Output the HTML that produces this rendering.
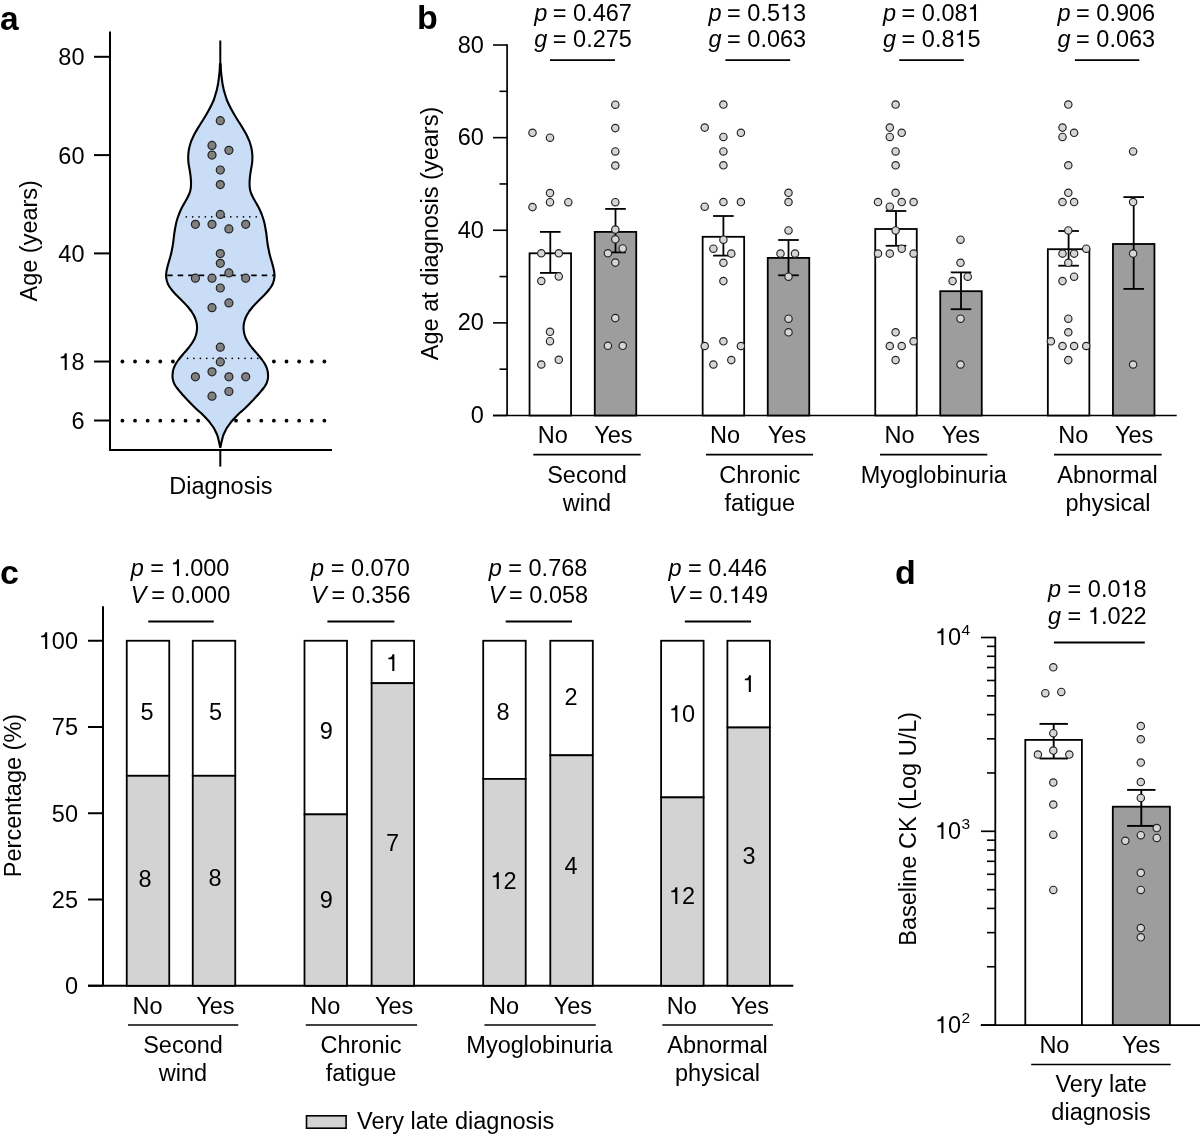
<!DOCTYPE html>
<html><head><meta charset="utf-8"><style>
html,body{margin:0;padding:0;background:#fff;}
svg{display:block;font-family:"Liberation Sans",sans-serif;will-change:transform;}
svg text{fill:#000;}
svg tspan.o{fill:transparent;}
svg line{stroke:#000;}
</style></head><body>
<svg width="1200" height="1141" viewBox="0 0 1200 1141">
<rect width="1200" height="1141" fill="#fff"/>
<text x="0" y="29.6" font-size="33.5" font-weight="bold" text-anchor="start">a</text>
<circle cx="122.4" cy="361.5" r="1.9" fill="#000"/>
<circle cx="135.03" cy="361.5" r="1.9" fill="#000"/>
<circle cx="147.65" cy="361.5" r="1.9" fill="#000"/>
<circle cx="160.28" cy="361.5" r="1.9" fill="#000"/>
<circle cx="172.9" cy="361.5" r="1.9" fill="#000"/>
<circle cx="185.53" cy="361.5" r="1.9" fill="#000"/>
<circle cx="198.15" cy="361.5" r="1.9" fill="#000"/>
<circle cx="210.78" cy="361.5" r="1.9" fill="#000"/>
<circle cx="223.4" cy="361.5" r="1.9" fill="#000"/>
<circle cx="236.03" cy="361.5" r="1.9" fill="#000"/>
<circle cx="248.65" cy="361.5" r="1.9" fill="#000"/>
<circle cx="261.27" cy="361.5" r="1.9" fill="#000"/>
<circle cx="273.9" cy="361.5" r="1.9" fill="#000"/>
<circle cx="286.52" cy="361.5" r="1.9" fill="#000"/>
<circle cx="299.15" cy="361.5" r="1.9" fill="#000"/>
<circle cx="311.77" cy="361.5" r="1.9" fill="#000"/>
<circle cx="324.4" cy="361.5" r="1.9" fill="#000"/>
<circle cx="122.4" cy="420.7" r="1.9" fill="#000"/>
<circle cx="135.03" cy="420.7" r="1.9" fill="#000"/>
<circle cx="147.65" cy="420.7" r="1.9" fill="#000"/>
<circle cx="160.28" cy="420.7" r="1.9" fill="#000"/>
<circle cx="172.9" cy="420.7" r="1.9" fill="#000"/>
<circle cx="185.53" cy="420.7" r="1.9" fill="#000"/>
<circle cx="198.15" cy="420.7" r="1.9" fill="#000"/>
<circle cx="210.78" cy="420.7" r="1.9" fill="#000"/>
<circle cx="223.4" cy="420.7" r="1.9" fill="#000"/>
<circle cx="236.03" cy="420.7" r="1.9" fill="#000"/>
<circle cx="248.65" cy="420.7" r="1.9" fill="#000"/>
<circle cx="261.27" cy="420.7" r="1.9" fill="#000"/>
<circle cx="273.9" cy="420.7" r="1.9" fill="#000"/>
<circle cx="286.52" cy="420.7" r="1.9" fill="#000"/>
<circle cx="299.15" cy="420.7" r="1.9" fill="#000"/>
<circle cx="311.77" cy="420.7" r="1.9" fill="#000"/>
<circle cx="324.4" cy="420.7" r="1.9" fill="#000"/>
<path d="M220.6,64 C220.62,64.33 220.67,65.33 220.7,66 C220.73,66.67 220.77,67.33 220.8,68 C220.83,68.67 220.85,69.33 220.9,70 C220.95,70.67 221.03,71.33 221.1,72 C221.17,72.67 221.23,73.33 221.3,74 C221.37,74.67 221.44,75.33 221.52,76 C221.6,76.67 221.68,77.33 221.76,78 C221.84,78.67 221.91,79.33 222,80 C222.09,80.67 222.19,81.33 222.28,82 C222.37,82.67 222.45,83.33 222.56,84 C222.67,84.67 222.82,85.33 222.96,86 C223.09,86.67 223.24,87.33 223.38,88 C223.52,88.67 223.63,89.33 223.8,90 C223.97,90.67 224.19,91.33 224.39,92 C224.58,92.67 224.77,93.33 224.97,94 C225.17,94.67 225.38,95.33 225.58,96 C225.78,96.67 225.98,97.33 226.2,98 C226.41,98.67 226.6,99.33 226.86,100 C227.12,100.67 227.45,101.33 227.76,102 C228.06,102.67 228.37,103.33 228.69,104 C229,104.67 229.32,105.33 229.65,106 C229.98,106.67 230.32,107.33 230.66,108 C231.01,108.67 231.37,109.33 231.73,110 C232.09,110.67 232.45,111.33 232.82,112 C233.19,112.67 233.56,113.33 233.95,114 C234.34,114.67 234.74,115.33 235.14,116 C235.54,116.67 235.95,117.33 236.36,118 C236.77,118.67 237.18,119.33 237.59,120 C238.01,120.67 238.43,121.33 238.85,122 C239.27,122.67 239.7,123.33 240.13,124 C240.55,124.67 240.99,125.33 241.41,126 C241.83,126.67 242.25,127.33 242.65,128 C243.05,128.67 243.45,129.33 243.83,130 C244.22,130.67 244.61,131.33 244.98,132 C245.36,132.67 245.74,133.33 246.09,134 C246.44,134.67 246.78,135.33 247.1,136 C247.43,136.67 247.72,137.33 248.02,138 C248.32,138.67 248.62,139.33 248.9,140 C249.17,140.67 249.44,141.33 249.68,142 C249.92,142.67 250.12,143.33 250.32,144 C250.52,144.67 250.7,145.33 250.88,146 C251.06,146.67 251.23,147.33 251.38,148 C251.53,148.67 251.66,149.33 251.77,150 C251.88,150.67 251.96,151.33 252.04,152 C252.12,152.67 252.2,153.33 252.25,154 C252.31,154.67 252.37,155.33 252.39,156 C252.41,156.67 252.41,157.33 252.4,158 C252.39,158.67 252.36,159.33 252.32,160 C252.29,160.67 252.26,161.33 252.2,162 C252.14,162.67 252.06,163.33 251.97,164 C251.88,164.67 251.75,165.33 251.64,166 C251.52,166.67 251.39,167.33 251.28,168 C251.16,168.67 251.04,169.33 250.93,170 C250.82,170.67 250.72,171.33 250.62,172 C250.52,172.67 250.42,173.33 250.33,174 C250.24,174.67 250.15,175.33 250.07,176 C249.99,176.67 249.92,177.33 249.86,178 C249.8,178.67 249.75,179.33 249.71,180 C249.66,180.67 249.62,181.33 249.6,182 C249.58,182.67 249.57,183.33 249.57,184 C249.58,184.67 249.6,185.33 249.64,186 C249.68,186.67 249.73,187.33 249.81,188 C249.9,188.67 250,189.33 250.14,190 C250.29,190.67 250.46,191.33 250.67,192 C250.89,192.67 251.15,193.33 251.42,194 C251.7,194.67 252.01,195.33 252.33,196 C252.65,196.67 253,197.33 253.35,198 C253.7,198.67 254.06,199.33 254.43,200 C254.8,200.67 255.18,201.33 255.56,202 C255.94,202.67 256.34,203.33 256.72,204 C257.11,204.67 257.5,205.33 257.87,206 C258.23,206.67 258.59,207.33 258.92,208 C259.25,208.67 259.56,209.33 259.87,210 C260.17,210.67 260.46,211.33 260.74,212 C261.02,212.67 261.29,213.33 261.54,214 C261.8,214.67 262.05,215.33 262.29,216 C262.53,216.67 262.76,217.33 262.98,218 C263.2,218.67 263.41,219.33 263.6,220 C263.8,220.67 263.99,221.33 264.16,222 C264.33,222.67 264.48,223.33 264.63,224 C264.77,224.67 264.89,225.33 265.01,226 C265.14,226.67 265.26,227.33 265.38,228 C265.5,228.67 265.62,229.33 265.74,230 C265.85,230.67 265.97,231.33 266.08,232 C266.19,232.67 266.29,233.33 266.38,234 C266.47,234.67 266.55,235.33 266.63,236 C266.71,236.67 266.78,237.33 266.86,238 C266.94,238.67 267.01,239.33 267.09,240 C267.17,240.67 267.24,241.33 267.33,242 C267.42,242.67 267.51,243.33 267.62,244 C267.72,244.67 267.84,245.33 267.96,246 C268.08,246.67 268.21,247.33 268.34,248 C268.46,248.67 268.59,249.33 268.72,250 C268.85,250.67 268.97,251.33 269.11,252 C269.25,252.67 269.39,253.33 269.55,254 C269.71,254.67 269.89,255.33 270.07,256 C270.25,256.67 270.45,257.33 270.64,258 C270.83,258.67 271.03,259.33 271.23,260 C271.42,260.67 271.62,261.33 271.81,262 C272,262.67 272.19,263.33 272.38,264 C272.56,264.67 272.74,265.33 272.91,266 C273.08,266.67 273.24,267.33 273.4,268 C273.55,268.67 273.7,269.33 273.84,270 C273.97,270.67 274.09,271.33 274.19,272 C274.29,272.67 274.39,273.33 274.44,274 C274.49,274.67 274.51,275.33 274.49,276 C274.47,276.67 274.4,277.33 274.31,278 C274.22,278.67 274.1,279.33 273.95,280 C273.8,280.67 273.61,281.33 273.39,282 C273.17,282.67 272.94,283.33 272.64,284 C272.34,284.67 272.01,285.33 271.61,286 C271.21,286.67 270.75,287.33 270.27,288 C269.79,288.67 269.26,289.33 268.73,290 C268.19,290.67 267.62,291.33 267.03,292 C266.45,292.67 265.85,293.33 265.23,294 C264.61,294.67 263.97,295.33 263.31,296 C262.66,296.67 261.97,297.33 261.3,298 C260.62,298.67 259.93,299.33 259.26,300 C258.59,300.67 257.92,301.33 257.27,302 C256.62,302.67 255.97,303.33 255.34,304 C254.72,304.67 254.1,305.33 253.51,306 C252.92,306.67 252.35,307.33 251.8,308 C251.25,308.67 250.71,309.33 250.21,310 C249.71,310.67 249.23,311.33 248.79,312 C248.34,312.67 247.94,313.33 247.55,314 C247.16,314.67 246.79,315.33 246.46,316 C246.13,316.67 245.83,317.33 245.56,318 C245.29,318.67 245.05,319.33 244.83,320 C244.61,320.67 244.41,321.33 244.25,322 C244.09,322.67 243.96,323.33 243.86,324 C243.75,324.67 243.67,325.33 243.62,326 C243.57,326.67 243.55,327.33 243.57,328 C243.58,328.67 243.64,329.33 243.7,330 C243.77,330.67 243.86,331.33 243.97,332 C244.08,332.67 244.22,333.33 244.38,334 C244.54,334.67 244.72,335.33 244.94,336 C245.16,336.67 245.4,337.33 245.7,338 C246,338.67 246.35,339.33 246.72,340 C247.08,340.67 247.48,341.33 247.89,342 C248.31,342.67 248.75,343.33 249.2,344 C249.65,344.67 250.13,345.33 250.62,346 C251.11,346.67 251.61,347.33 252.15,348 C252.69,348.67 253.26,349.33 253.84,350 C254.42,350.67 255.02,351.33 255.61,352 C256.2,352.67 256.79,353.33 257.37,354 C257.95,354.67 258.52,355.33 259.08,356 C259.64,356.67 260.19,357.33 260.72,358 C261.24,358.67 261.75,359.33 262.23,360 C262.71,360.67 263.18,361.33 263.62,362 C264.06,362.67 264.48,363.33 264.86,364 C265.24,364.67 265.59,365.33 265.91,366 C266.23,366.67 266.53,367.33 266.78,368 C267.03,368.67 267.23,369.33 267.39,370 C267.55,370.67 267.64,371.33 267.74,372 C267.84,372.67 267.92,373.33 267.97,374 C268.03,374.67 268.09,375.33 268.09,376 C268.09,376.67 268.04,377.33 267.96,378 C267.88,378.67 267.76,379.33 267.61,380 C267.45,380.67 267.27,381.33 267.04,382 C266.8,382.67 266.54,383.33 266.21,384 C265.88,384.67 265.48,385.33 265.05,386 C264.61,386.67 264.11,387.33 263.61,388 C263.1,388.67 262.57,389.33 262.03,390 C261.49,390.67 260.92,391.33 260.36,392 C259.79,392.67 259.21,393.33 258.62,394 C258.04,394.67 257.44,395.33 256.84,396 C256.24,396.67 255.63,397.33 255.01,398 C254.4,398.67 253.78,399.33 253.16,400 C252.53,400.67 251.91,401.33 251.27,402 C250.63,402.67 249.98,403.33 249.33,404 C248.68,404.67 248.02,405.33 247.35,406 C246.68,406.67 246.01,407.33 245.3,408 C244.59,408.67 243.86,409.33 243.12,410 C242.38,410.67 241.6,411.33 240.85,412 C240.1,412.67 239.34,413.33 238.62,414 C237.91,414.67 237.21,415.33 236.56,416 C235.9,416.67 235.29,417.33 234.68,418 C234.06,418.67 233.46,419.33 232.86,420 C232.27,420.67 231.65,421.33 231.12,422 C230.59,422.67 230.14,423.33 229.66,424 C229.18,424.67 228.71,425.33 228.24,426 C227.76,426.67 227.23,427.33 226.81,428 C226.4,428.67 226.1,429.33 225.76,430 C225.42,430.67 225.11,431.33 224.78,432 C224.45,432.67 224.08,433.33 223.79,434 C223.5,434.67 223.26,435.33 223.05,436 C222.84,436.67 222.71,437.33 222.54,438 C222.37,438.67 222.2,439.33 222.03,440 C221.86,440.67 221.69,441.33 221.54,442 C221.39,442.67 221.26,443.33 221.12,444 C220.98,444.67 220.81,445.5 220.71,446 C220.6,446.5 220.53,446.83 220.5,447 L220.1,447 C220.07,446.83 220,446.5 219.89,446 C219.79,445.5 219.62,444.67 219.48,444 C219.34,443.33 219.21,442.67 219.06,442 C218.91,441.33 218.74,440.67 218.57,440 C218.4,439.33 218.23,438.67 218.06,438 C217.89,437.33 217.76,436.67 217.55,436 C217.34,435.33 217.1,434.67 216.81,434 C216.52,433.33 216.15,432.67 215.82,432 C215.49,431.33 215.18,430.67 214.84,430 C214.5,429.33 214.2,428.67 213.79,428 C213.37,427.33 212.84,426.67 212.36,426 C211.89,425.33 211.42,424.67 210.94,424 C210.46,423.33 210.01,422.67 209.48,422 C208.95,421.33 208.33,420.67 207.74,420 C207.14,419.33 206.54,418.67 205.92,418 C205.31,417.33 204.7,416.67 204.04,416 C203.39,415.33 202.69,414.67 201.98,414 C201.26,413.33 200.5,412.67 199.75,412 C199,411.33 198.22,410.67 197.48,410 C196.74,409.33 196.01,408.67 195.3,408 C194.59,407.33 193.92,406.67 193.25,406 C192.58,405.33 191.92,404.67 191.27,404 C190.62,403.33 189.97,402.67 189.33,402 C188.69,401.33 188.07,400.67 187.44,400 C186.82,399.33 186.2,398.67 185.59,398 C184.97,397.33 184.36,396.67 183.76,396 C183.16,395.33 182.56,394.67 181.98,394 C181.39,393.33 180.81,392.67 180.24,392 C179.68,391.33 179.11,390.67 178.57,390 C178.03,389.33 177.5,388.67 176.99,388 C176.49,387.33 175.99,386.67 175.55,386 C175.12,385.33 174.72,384.67 174.39,384 C174.06,383.33 173.8,382.67 173.56,382 C173.33,381.33 173.15,380.67 172.99,380 C172.84,379.33 172.72,378.67 172.64,378 C172.56,377.33 172.51,376.67 172.51,376 C172.51,375.33 172.57,374.67 172.63,374 C172.68,373.33 172.76,372.67 172.86,372 C172.96,371.33 173.05,370.67 173.21,370 C173.37,369.33 173.57,368.67 173.82,368 C174.07,367.33 174.37,366.67 174.69,366 C175.01,365.33 175.36,364.67 175.74,364 C176.12,363.33 176.54,362.67 176.98,362 C177.42,361.33 177.89,360.67 178.37,360 C178.85,359.33 179.36,358.67 179.88,358 C180.41,357.33 180.96,356.67 181.52,356 C182.08,355.33 182.65,354.67 183.23,354 C183.81,353.33 184.4,352.67 184.99,352 C185.58,351.33 186.18,350.67 186.76,350 C187.34,349.33 187.91,348.67 188.45,348 C188.99,347.33 189.49,346.67 189.98,346 C190.47,345.33 190.95,344.67 191.4,344 C191.85,343.33 192.29,342.67 192.71,342 C193.12,341.33 193.52,340.67 193.88,340 C194.25,339.33 194.6,338.67 194.9,338 C195.2,337.33 195.44,336.67 195.66,336 C195.88,335.33 196.06,334.67 196.22,334 C196.38,333.33 196.52,332.67 196.63,332 C196.74,331.33 196.83,330.67 196.9,330 C196.96,329.33 197.02,328.67 197.03,328 C197.05,327.33 197.03,326.67 196.98,326 C196.93,325.33 196.85,324.67 196.74,324 C196.64,323.33 196.51,322.67 196.35,322 C196.19,321.33 195.99,320.67 195.77,320 C195.55,319.33 195.31,318.67 195.04,318 C194.77,317.33 194.47,316.67 194.14,316 C193.81,315.33 193.44,314.67 193.05,314 C192.66,313.33 192.26,312.67 191.81,312 C191.37,311.33 190.89,310.67 190.39,310 C189.89,309.33 189.35,308.67 188.8,308 C188.25,307.33 187.68,306.67 187.09,306 C186.5,305.33 185.88,304.67 185.26,304 C184.63,303.33 183.98,302.67 183.33,302 C182.68,301.33 182.01,300.67 181.34,300 C180.67,299.33 179.98,298.67 179.3,298 C178.63,297.33 177.94,296.67 177.29,296 C176.63,295.33 175.99,294.67 175.37,294 C174.75,293.33 174.15,292.67 173.57,292 C172.98,291.33 172.41,290.67 171.87,290 C171.34,289.33 170.81,288.67 170.33,288 C169.85,287.33 169.39,286.67 168.99,286 C168.59,285.33 168.26,284.67 167.96,284 C167.66,283.33 167.43,282.67 167.21,282 C166.99,281.33 166.8,280.67 166.65,280 C166.5,279.33 166.38,278.67 166.29,278 C166.2,277.33 166.13,276.67 166.11,276 C166.09,275.33 166.11,274.67 166.16,274 C166.21,273.33 166.31,272.67 166.41,272 C166.51,271.33 166.63,270.67 166.76,270 C166.9,269.33 167.05,268.67 167.2,268 C167.36,267.33 167.52,266.67 167.69,266 C167.86,265.33 168.04,264.67 168.22,264 C168.41,263.33 168.6,262.67 168.79,262 C168.98,261.33 169.18,260.67 169.37,260 C169.57,259.33 169.77,258.67 169.96,258 C170.15,257.33 170.35,256.67 170.53,256 C170.71,255.33 170.89,254.67 171.05,254 C171.21,253.33 171.35,252.67 171.49,252 C171.63,251.33 171.75,250.67 171.88,250 C172.01,249.33 172.14,248.67 172.26,248 C172.39,247.33 172.52,246.67 172.64,246 C172.76,245.33 172.88,244.67 172.98,244 C173.09,243.33 173.18,242.67 173.27,242 C173.36,241.33 173.43,240.67 173.51,240 C173.59,239.33 173.66,238.67 173.74,238 C173.82,237.33 173.89,236.67 173.97,236 C174.05,235.33 174.13,234.67 174.22,234 C174.31,233.33 174.41,232.67 174.52,232 C174.63,231.33 174.75,230.67 174.86,230 C174.98,229.33 175.1,228.67 175.22,228 C175.34,227.33 175.46,226.67 175.59,226 C175.71,225.33 175.83,224.67 175.97,224 C176.12,223.33 176.27,222.67 176.44,222 C176.61,221.33 176.8,220.67 177,220 C177.19,219.33 177.4,218.67 177.62,218 C177.84,217.33 178.07,216.67 178.31,216 C178.55,215.33 178.8,214.67 179.06,214 C179.31,213.33 179.58,212.67 179.86,212 C180.14,211.33 180.43,210.67 180.73,210 C181.04,209.33 181.35,208.67 181.68,208 C182.01,207.33 182.37,206.67 182.73,206 C183.1,205.33 183.49,204.67 183.88,204 C184.26,203.33 184.66,202.67 185.04,202 C185.42,201.33 185.8,200.67 186.17,200 C186.54,199.33 186.9,198.67 187.25,198 C187.6,197.33 187.95,196.67 188.27,196 C188.59,195.33 188.9,194.67 189.18,194 C189.45,193.33 189.71,192.67 189.93,192 C190.14,191.33 190.31,190.67 190.46,190 C190.6,189.33 190.7,188.67 190.79,188 C190.87,187.33 190.92,186.67 190.96,186 C191,185.33 191.02,184.67 191.03,184 C191.03,183.33 191.02,182.67 191,182 C190.98,181.33 190.94,180.67 190.89,180 C190.85,179.33 190.8,178.67 190.74,178 C190.68,177.33 190.61,176.67 190.53,176 C190.45,175.33 190.36,174.67 190.27,174 C190.18,173.33 190.08,172.67 189.98,172 C189.88,171.33 189.78,170.67 189.67,170 C189.56,169.33 189.44,168.67 189.32,168 C189.21,167.33 189.08,166.67 188.96,166 C188.85,165.33 188.72,164.67 188.63,164 C188.54,163.33 188.46,162.67 188.4,162 C188.34,161.33 188.31,160.67 188.28,160 C188.24,159.33 188.21,158.67 188.2,158 C188.19,157.33 188.19,156.67 188.21,156 C188.23,155.33 188.29,154.67 188.35,154 C188.4,153.33 188.48,152.67 188.56,152 C188.64,151.33 188.72,150.67 188.83,150 C188.94,149.33 189.07,148.67 189.22,148 C189.37,147.33 189.54,146.67 189.72,146 C189.9,145.33 190.08,144.67 190.28,144 C190.48,143.33 190.68,142.67 190.92,142 C191.16,141.33 191.43,140.67 191.7,140 C191.98,139.33 192.28,138.67 192.58,138 C192.88,137.33 193.17,136.67 193.5,136 C193.82,135.33 194.16,134.67 194.51,134 C194.86,133.33 195.24,132.67 195.62,132 C195.99,131.33 196.38,130.67 196.77,130 C197.15,129.33 197.55,128.67 197.95,128 C198.35,127.33 198.77,126.67 199.19,126 C199.61,125.33 200.05,124.67 200.47,124 C200.9,123.33 201.33,122.67 201.75,122 C202.17,121.33 202.59,120.67 203.01,120 C203.42,119.33 203.83,118.67 204.24,118 C204.65,117.33 205.06,116.67 205.46,116 C205.86,115.33 206.26,114.67 206.65,114 C207.04,113.33 207.41,112.67 207.78,112 C208.15,111.33 208.51,110.67 208.87,110 C209.23,109.33 209.59,108.67 209.94,108 C210.28,107.33 210.62,106.67 210.95,106 C211.28,105.33 211.6,104.67 211.91,104 C212.23,103.33 212.54,102.67 212.84,102 C213.15,101.33 213.48,100.67 213.74,100 C214,99.33 214.19,98.67 214.4,98 C214.62,97.33 214.82,96.67 215.02,96 C215.22,95.33 215.43,94.67 215.63,94 C215.83,93.33 216.02,92.67 216.21,92 C216.41,91.33 216.63,90.67 216.8,90 C216.97,89.33 217.08,88.67 217.22,88 C217.36,87.33 217.51,86.67 217.64,86 C217.78,85.33 217.93,84.67 218.04,84 C218.15,83.33 218.23,82.67 218.32,82 C218.41,81.33 218.51,80.67 218.6,80 C218.69,79.33 218.76,78.67 218.84,78 C218.92,77.33 219,76.67 219.08,76 C219.16,75.33 219.23,74.67 219.3,74 C219.37,73.33 219.43,72.67 219.5,72 C219.57,71.33 219.65,70.67 219.7,70 C219.75,69.33 219.77,68.67 219.8,68 C219.83,67.33 219.87,66.67 219.9,66 C219.93,65.33 219.98,64.33 220,64 Z" fill="#c9ddf7" stroke="#000" stroke-width="2.1" stroke-linejoin="round"/>
<line x1="220.3" y1="40.5" x2="220.3" y2="70" stroke-width="2" />
<circle cx="186.3" cy="216.8" r="0.85" fill="#000"/>
<circle cx="192.65" cy="216.8" r="0.85" fill="#000"/>
<circle cx="199.01" cy="216.8" r="0.85" fill="#000"/>
<circle cx="205.36" cy="216.8" r="0.85" fill="#000"/>
<circle cx="211.72" cy="216.8" r="0.85" fill="#000"/>
<circle cx="218.07" cy="216.8" r="0.85" fill="#000"/>
<circle cx="224.43" cy="216.8" r="0.85" fill="#000"/>
<circle cx="230.78" cy="216.8" r="0.85" fill="#000"/>
<circle cx="237.14" cy="216.8" r="0.85" fill="#000"/>
<circle cx="243.49" cy="216.8" r="0.85" fill="#000"/>
<circle cx="249.85" cy="216.8" r="0.85" fill="#000"/>
<circle cx="256.2" cy="216.8" r="0.85" fill="#000"/>
<circle cx="187.6" cy="358.3" r="0.85" fill="#000"/>
<circle cx="193.98" cy="358.3" r="0.85" fill="#000"/>
<circle cx="200.36" cy="358.3" r="0.85" fill="#000"/>
<circle cx="206.75" cy="358.3" r="0.85" fill="#000"/>
<circle cx="213.13" cy="358.3" r="0.85" fill="#000"/>
<circle cx="219.51" cy="358.3" r="0.85" fill="#000"/>
<circle cx="225.89" cy="358.3" r="0.85" fill="#000"/>
<circle cx="232.27" cy="358.3" r="0.85" fill="#000"/>
<circle cx="238.65" cy="358.3" r="0.85" fill="#000"/>
<circle cx="245.04" cy="358.3" r="0.85" fill="#000"/>
<circle cx="251.42" cy="358.3" r="0.85" fill="#000"/>
<circle cx="257.8" cy="358.3" r="0.85" fill="#000"/>
<line x1="167.2" y1="275.4" x2="274" y2="275.4" stroke-width="1.9" stroke-dasharray="5.5,5"/>
<circle cx="220.3" cy="120.7" r="4.0" fill="#808080" stroke="#222" stroke-width="1.2"/>
<circle cx="212" cy="145.4" r="4.0" fill="#808080" stroke="#222" stroke-width="1.2"/>
<circle cx="228.9" cy="150.3" r="4.0" fill="#808080" stroke="#222" stroke-width="1.2"/>
<circle cx="212" cy="155.1" r="4.0" fill="#808080" stroke="#222" stroke-width="1.2"/>
<circle cx="220.3" cy="170" r="4.0" fill="#808080" stroke="#222" stroke-width="1.2"/>
<circle cx="220.3" cy="184.6" r="4.0" fill="#808080" stroke="#222" stroke-width="1.2"/>
<circle cx="220.3" cy="214.4" r="4.0" fill="#808080" stroke="#222" stroke-width="1.2"/>
<circle cx="195.4" cy="224.3" r="4.0" fill="#808080" stroke="#222" stroke-width="1.2"/>
<circle cx="212" cy="224.3" r="4.0" fill="#808080" stroke="#222" stroke-width="1.2"/>
<circle cx="228.9" cy="228.9" r="4.0" fill="#808080" stroke="#222" stroke-width="1.2"/>
<circle cx="245.7" cy="224.3" r="4.0" fill="#808080" stroke="#222" stroke-width="1.2"/>
<circle cx="220.3" cy="253.6" r="4.0" fill="#808080" stroke="#222" stroke-width="1.2"/>
<circle cx="220.3" cy="263.3" r="4.0" fill="#808080" stroke="#222" stroke-width="1.2"/>
<circle cx="228.9" cy="272.9" r="4.0" fill="#808080" stroke="#222" stroke-width="1.2"/>
<circle cx="195.4" cy="278.2" r="4.0" fill="#808080" stroke="#222" stroke-width="1.2"/>
<circle cx="212" cy="278.2" r="4.0" fill="#808080" stroke="#222" stroke-width="1.2"/>
<circle cx="245.7" cy="278.2" r="4.0" fill="#808080" stroke="#222" stroke-width="1.2"/>
<circle cx="220.3" cy="288" r="4.0" fill="#808080" stroke="#222" stroke-width="1.2"/>
<circle cx="228.9" cy="302.9" r="4.0" fill="#808080" stroke="#222" stroke-width="1.2"/>
<circle cx="212" cy="307.7" r="4.0" fill="#808080" stroke="#222" stroke-width="1.2"/>
<circle cx="220.3" cy="347.2" r="4.0" fill="#808080" stroke="#222" stroke-width="1.2"/>
<circle cx="220.3" cy="361.9" r="4.0" fill="#808080" stroke="#222" stroke-width="1.2"/>
<circle cx="212" cy="371.8" r="4.0" fill="#808080" stroke="#222" stroke-width="1.2"/>
<circle cx="195.4" cy="376.8" r="4.0" fill="#808080" stroke="#222" stroke-width="1.2"/>
<circle cx="228.9" cy="376.8" r="4.0" fill="#808080" stroke="#222" stroke-width="1.2"/>
<circle cx="245.7" cy="376.8" r="4.0" fill="#808080" stroke="#222" stroke-width="1.2"/>
<circle cx="228.9" cy="391.5" r="4.0" fill="#808080" stroke="#222" stroke-width="1.2"/>
<circle cx="212" cy="396.2" r="4.0" fill="#808080" stroke="#222" stroke-width="1.2"/>
<line x1="110" y1="31.5" x2="110" y2="451" stroke-width="2" />
<line x1="109" y1="450" x2="332" y2="450" stroke-width="2" />
<line x1="220.3" y1="450" x2="220.3" y2="466.6" stroke-width="2" />
<line x1="94" y1="56.8" x2="110" y2="56.8" stroke-width="2" />
<text x="84.5" y="65.2" text-anchor="end" font-size="23.5" >80</text>
<line x1="94" y1="155.1" x2="110" y2="155.1" stroke-width="2" />
<text x="84.5" y="163.5" text-anchor="end" font-size="23.5" >60</text>
<line x1="94" y1="253.4" x2="110" y2="253.4" stroke-width="2" />
<text x="84.5" y="261.8" text-anchor="end" font-size="23.5" >40</text>
<line x1="94" y1="361.53" x2="110" y2="361.53" stroke-width="2" />
<text x="84.5" y="369.93" text-anchor="end" font-size="23.5" ><tspan class="o">1</tspan>8</text>
<line x1="94" y1="420.51" x2="110" y2="420.51" stroke-width="2" />
<text x="84.5" y="428.91" text-anchor="end" font-size="23.5" >6</text>
<text x="220.8" y="493.6" text-anchor="middle" font-size="23.5" >Diagnosis</text>
<text transform="translate(36.5,240.8) rotate(-90)" text-anchor="middle" font-size="23.5">Age (years)</text>
<text x="417" y="29" font-size="34" font-weight="bold" text-anchor="start">b</text>
<line x1="507.1" y1="44.2" x2="507.1" y2="416" stroke-width="1.7" />
<line x1="493" y1="415.5" x2="1176.7" y2="415.5" stroke-width="1.6" />
<line x1="493" y1="415.5" x2="507.1" y2="415.5" stroke-width="1.6" />
<text x="483.8" y="423.1" text-anchor="end" font-size="23.5" >0</text>
<line x1="493" y1="322.88" x2="507.1" y2="322.88" stroke-width="1.6" />
<text x="483.8" y="330.48" text-anchor="end" font-size="23.5" >20</text>
<line x1="493" y1="230.26" x2="507.1" y2="230.26" stroke-width="1.6" />
<text x="483.8" y="237.86" text-anchor="end" font-size="23.5" >40</text>
<line x1="493" y1="137.64" x2="507.1" y2="137.64" stroke-width="1.6" />
<text x="483.8" y="145.24" text-anchor="end" font-size="23.5" >60</text>
<line x1="493" y1="45.02" x2="507.1" y2="45.02" stroke-width="1.6" />
<text x="483.8" y="52.62" text-anchor="end" font-size="23.5" >80</text>
<line x1="499.5" y1="369.19" x2="507.1" y2="369.19" stroke-width="1.6" />
<line x1="499.5" y1="276.57" x2="507.1" y2="276.57" stroke-width="1.6" />
<line x1="499.5" y1="183.95" x2="507.1" y2="183.95" stroke-width="1.6" />
<line x1="499.5" y1="91.33" x2="507.1" y2="91.33" stroke-width="1.6" />
<text transform="translate(438,233.5) rotate(-90)" text-anchor="middle" font-size="23.5">Age at diagnosis (years)</text>
<rect x="529.55" y="253.3" width="41.5" height="162.2" fill="#fff" stroke="#000" stroke-width="1.8"/>
<line x1="550.3" y1="231.9" x2="550.3" y2="272.9" stroke-width="1.8" />
<line x1="540" y1="231.9" x2="560.6" y2="231.9" stroke-width="1.8" />
<line x1="540" y1="272.9" x2="560.6" y2="272.9" stroke-width="1.8" />
<circle cx="532.5" cy="132.8" r="3.7" fill="#d5d5d5" stroke="#222" stroke-width="1.15"/>
<circle cx="550" cy="137.7" r="3.7" fill="#d5d5d5" stroke="#222" stroke-width="1.15"/>
<circle cx="550" cy="193.1" r="3.7" fill="#d5d5d5" stroke="#222" stroke-width="1.15"/>
<circle cx="550" cy="202.2" r="3.7" fill="#d5d5d5" stroke="#222" stroke-width="1.15"/>
<circle cx="568.3" cy="202.2" r="3.7" fill="#d5d5d5" stroke="#222" stroke-width="1.15"/>
<circle cx="532.5" cy="207.1" r="3.7" fill="#d5d5d5" stroke="#222" stroke-width="1.15"/>
<circle cx="541.3" cy="253.3" r="3.7" fill="#d5d5d5" stroke="#222" stroke-width="1.15"/>
<circle cx="558.8" cy="253.3" r="3.7" fill="#d5d5d5" stroke="#222" stroke-width="1.15"/>
<circle cx="558.8" cy="276.4" r="3.7" fill="#d5d5d5" stroke="#222" stroke-width="1.15"/>
<circle cx="541.3" cy="281" r="3.7" fill="#d5d5d5" stroke="#222" stroke-width="1.15"/>
<circle cx="550" cy="331.8" r="3.7" fill="#d5d5d5" stroke="#222" stroke-width="1.15"/>
<circle cx="550" cy="341.2" r="3.7" fill="#d5d5d5" stroke="#222" stroke-width="1.15"/>
<circle cx="558.8" cy="359.8" r="3.7" fill="#d5d5d5" stroke="#222" stroke-width="1.15"/>
<circle cx="541.3" cy="364.5" r="3.7" fill="#d5d5d5" stroke="#222" stroke-width="1.15"/>
<rect x="594.75" y="231.9" width="41.5" height="183.6" fill="#9d9d9d" stroke="#000" stroke-width="1.8"/>
<line x1="615.5" y1="208.9" x2="615.5" y2="252.4" stroke-width="1.8" />
<line x1="605.2" y1="208.9" x2="625.8" y2="208.9" stroke-width="1.8" />
<line x1="605.2" y1="252.4" x2="625.8" y2="252.4" stroke-width="1.8" />
<circle cx="615.3" cy="104.7" r="3.7" fill="#d5d5d5" stroke="#222" stroke-width="1.15"/>
<circle cx="615.3" cy="128.1" r="3.7" fill="#d5d5d5" stroke="#222" stroke-width="1.15"/>
<circle cx="615.3" cy="151.4" r="3.7" fill="#d5d5d5" stroke="#222" stroke-width="1.15"/>
<circle cx="615.3" cy="165.5" r="3.7" fill="#d5d5d5" stroke="#222" stroke-width="1.15"/>
<circle cx="615.3" cy="202.2" r="3.7" fill="#d5d5d5" stroke="#222" stroke-width="1.15"/>
<circle cx="615.3" cy="229.6" r="3.7" fill="#d5d5d5" stroke="#222" stroke-width="1.15"/>
<circle cx="615.3" cy="239.3" r="3.7" fill="#d5d5d5" stroke="#222" stroke-width="1.15"/>
<circle cx="622.7" cy="248.4" r="3.7" fill="#d5d5d5" stroke="#222" stroke-width="1.15"/>
<circle cx="607.9" cy="253.3" r="3.7" fill="#d5d5d5" stroke="#222" stroke-width="1.15"/>
<circle cx="615.3" cy="262.6" r="3.7" fill="#d5d5d5" stroke="#222" stroke-width="1.15"/>
<circle cx="615.3" cy="318.1" r="3.7" fill="#d5d5d5" stroke="#222" stroke-width="1.15"/>
<circle cx="607.9" cy="345.8" r="3.7" fill="#d5d5d5" stroke="#222" stroke-width="1.15"/>
<circle cx="622.7" cy="345.8" r="3.7" fill="#d5d5d5" stroke="#222" stroke-width="1.15"/>
<rect x="702.65" y="236.8" width="41.5" height="178.7" fill="#fff" stroke="#000" stroke-width="1.8"/>
<line x1="723.4" y1="216" x2="723.4" y2="255.6" stroke-width="1.8" />
<line x1="713.1" y1="216" x2="733.7" y2="216" stroke-width="1.8" />
<line x1="713.1" y1="255.6" x2="733.7" y2="255.6" stroke-width="1.8" />
<circle cx="723.4" cy="104.5" r="3.7" fill="#d5d5d5" stroke="#222" stroke-width="1.15"/>
<circle cx="704.7" cy="127.6" r="3.7" fill="#d5d5d5" stroke="#222" stroke-width="1.15"/>
<circle cx="740.9" cy="132.8" r="3.7" fill="#d5d5d5" stroke="#222" stroke-width="1.15"/>
<circle cx="723.4" cy="136.9" r="3.7" fill="#d5d5d5" stroke="#222" stroke-width="1.15"/>
<circle cx="723.4" cy="151.4" r="3.7" fill="#d5d5d5" stroke="#222" stroke-width="1.15"/>
<circle cx="723.4" cy="165.3" r="3.7" fill="#d5d5d5" stroke="#222" stroke-width="1.15"/>
<circle cx="723.4" cy="202" r="3.7" fill="#d5d5d5" stroke="#222" stroke-width="1.15"/>
<circle cx="740.9" cy="202" r="3.7" fill="#d5d5d5" stroke="#222" stroke-width="1.15"/>
<circle cx="704.7" cy="206.7" r="3.7" fill="#d5d5d5" stroke="#222" stroke-width="1.15"/>
<circle cx="723.4" cy="239.7" r="3.7" fill="#d5d5d5" stroke="#222" stroke-width="1.15"/>
<circle cx="713.4" cy="248.7" r="3.7" fill="#d5d5d5" stroke="#222" stroke-width="1.15"/>
<circle cx="731.3" cy="253.6" r="3.7" fill="#d5d5d5" stroke="#222" stroke-width="1.15"/>
<circle cx="723.4" cy="262.8" r="3.7" fill="#d5d5d5" stroke="#222" stroke-width="1.15"/>
<circle cx="723.4" cy="281.1" r="3.7" fill="#d5d5d5" stroke="#222" stroke-width="1.15"/>
<circle cx="723.4" cy="341.3" r="3.7" fill="#d5d5d5" stroke="#222" stroke-width="1.15"/>
<circle cx="704.7" cy="346" r="3.7" fill="#d5d5d5" stroke="#222" stroke-width="1.15"/>
<circle cx="740.9" cy="346" r="3.7" fill="#d5d5d5" stroke="#222" stroke-width="1.15"/>
<circle cx="731.3" cy="360.1" r="3.7" fill="#d5d5d5" stroke="#222" stroke-width="1.15"/>
<circle cx="713.4" cy="364.5" r="3.7" fill="#d5d5d5" stroke="#222" stroke-width="1.15"/>
<rect x="767.75" y="257.9" width="41.5" height="157.6" fill="#9d9d9d" stroke="#000" stroke-width="1.8"/>
<line x1="788.5" y1="240" x2="788.5" y2="275.3" stroke-width="1.8" />
<line x1="778.2" y1="240" x2="798.8" y2="240" stroke-width="1.8" />
<line x1="778.2" y1="275.3" x2="798.8" y2="275.3" stroke-width="1.8" />
<circle cx="788.5" cy="192.8" r="3.7" fill="#d5d5d5" stroke="#222" stroke-width="1.15"/>
<circle cx="788.5" cy="202" r="3.7" fill="#d5d5d5" stroke="#222" stroke-width="1.15"/>
<circle cx="788.5" cy="230.4" r="3.7" fill="#d5d5d5" stroke="#222" stroke-width="1.15"/>
<circle cx="780.5" cy="253.6" r="3.7" fill="#d5d5d5" stroke="#222" stroke-width="1.15"/>
<circle cx="795" cy="253.6" r="3.7" fill="#d5d5d5" stroke="#222" stroke-width="1.15"/>
<circle cx="788.5" cy="276.7" r="3.7" fill="#d5d5d5" stroke="#222" stroke-width="1.15"/>
<circle cx="788.5" cy="318.7" r="3.7" fill="#d5d5d5" stroke="#222" stroke-width="1.15"/>
<circle cx="788.5" cy="332.3" r="3.7" fill="#d5d5d5" stroke="#222" stroke-width="1.15"/>
<rect x="875.25" y="229" width="41.5" height="186.5" fill="#fff" stroke="#000" stroke-width="1.8"/>
<line x1="896" y1="211" x2="896" y2="245.8" stroke-width="1.8" />
<line x1="885.7" y1="211" x2="906.3" y2="211" stroke-width="1.8" />
<line x1="885.7" y1="245.8" x2="906.3" y2="245.8" stroke-width="1.8" />
<circle cx="895.6" cy="104.5" r="3.7" fill="#d5d5d5" stroke="#222" stroke-width="1.15"/>
<circle cx="889.8" cy="127.6" r="3.7" fill="#d5d5d5" stroke="#222" stroke-width="1.15"/>
<circle cx="901.7" cy="132.8" r="3.7" fill="#d5d5d5" stroke="#222" stroke-width="1.15"/>
<circle cx="889.8" cy="136.9" r="3.7" fill="#d5d5d5" stroke="#222" stroke-width="1.15"/>
<circle cx="895.6" cy="151.4" r="3.7" fill="#d5d5d5" stroke="#222" stroke-width="1.15"/>
<circle cx="895.6" cy="165.3" r="3.7" fill="#d5d5d5" stroke="#222" stroke-width="1.15"/>
<circle cx="895.6" cy="192.8" r="3.7" fill="#d5d5d5" stroke="#222" stroke-width="1.15"/>
<circle cx="878" cy="202" r="3.7" fill="#d5d5d5" stroke="#222" stroke-width="1.15"/>
<circle cx="901.7" cy="202" r="3.7" fill="#d5d5d5" stroke="#222" stroke-width="1.15"/>
<circle cx="913.6" cy="202" r="3.7" fill="#d5d5d5" stroke="#222" stroke-width="1.15"/>
<circle cx="889.8" cy="206.7" r="3.7" fill="#d5d5d5" stroke="#222" stroke-width="1.15"/>
<circle cx="895.6" cy="230.4" r="3.7" fill="#d5d5d5" stroke="#222" stroke-width="1.15"/>
<circle cx="901.7" cy="248.7" r="3.7" fill="#d5d5d5" stroke="#222" stroke-width="1.15"/>
<circle cx="878" cy="253.6" r="3.7" fill="#d5d5d5" stroke="#222" stroke-width="1.15"/>
<circle cx="889.8" cy="253.6" r="3.7" fill="#d5d5d5" stroke="#222" stroke-width="1.15"/>
<circle cx="913.6" cy="253.6" r="3.7" fill="#d5d5d5" stroke="#222" stroke-width="1.15"/>
<circle cx="895.6" cy="332.3" r="3.7" fill="#d5d5d5" stroke="#222" stroke-width="1.15"/>
<circle cx="913.6" cy="341.3" r="3.7" fill="#d5d5d5" stroke="#222" stroke-width="1.15"/>
<circle cx="889.8" cy="346" r="3.7" fill="#d5d5d5" stroke="#222" stroke-width="1.15"/>
<circle cx="901.7" cy="346" r="3.7" fill="#d5d5d5" stroke="#222" stroke-width="1.15"/>
<circle cx="895.6" cy="360.1" r="3.7" fill="#d5d5d5" stroke="#222" stroke-width="1.15"/>
<rect x="940.25" y="291.2" width="41.5" height="124.3" fill="#9d9d9d" stroke="#000" stroke-width="1.8"/>
<line x1="961" y1="272.4" x2="961" y2="309.2" stroke-width="1.8" />
<line x1="950.7" y1="272.4" x2="971.3" y2="272.4" stroke-width="1.8" />
<line x1="950.7" y1="309.2" x2="971.3" y2="309.2" stroke-width="1.8" />
<circle cx="960.5" cy="239.7" r="3.7" fill="#d5d5d5" stroke="#222" stroke-width="1.15"/>
<circle cx="960.5" cy="262.8" r="3.7" fill="#d5d5d5" stroke="#222" stroke-width="1.15"/>
<circle cx="967.7" cy="276.7" r="3.7" fill="#d5d5d5" stroke="#222" stroke-width="1.15"/>
<circle cx="952.6" cy="281.1" r="3.7" fill="#d5d5d5" stroke="#222" stroke-width="1.15"/>
<circle cx="960.5" cy="318.7" r="3.7" fill="#d5d5d5" stroke="#222" stroke-width="1.15"/>
<circle cx="960.5" cy="364.5" r="3.7" fill="#d5d5d5" stroke="#222" stroke-width="1.15"/>
<rect x="1047.85" y="249.2" width="41.5" height="166.3" fill="#fff" stroke="#000" stroke-width="1.8"/>
<line x1="1068.6" y1="231" x2="1068.6" y2="265.7" stroke-width="1.8" />
<line x1="1058.3" y1="231" x2="1078.9" y2="231" stroke-width="1.8" />
<line x1="1058.3" y1="265.7" x2="1078.9" y2="265.7" stroke-width="1.8" />
<circle cx="1068.3" cy="104.5" r="3.7" fill="#d5d5d5" stroke="#222" stroke-width="1.15"/>
<circle cx="1062.5" cy="127.6" r="3.7" fill="#d5d5d5" stroke="#222" stroke-width="1.15"/>
<circle cx="1074.1" cy="132.8" r="3.7" fill="#d5d5d5" stroke="#222" stroke-width="1.15"/>
<circle cx="1062.5" cy="136.9" r="3.7" fill="#d5d5d5" stroke="#222" stroke-width="1.15"/>
<circle cx="1068.3" cy="165.3" r="3.7" fill="#d5d5d5" stroke="#222" stroke-width="1.15"/>
<circle cx="1068.3" cy="192.8" r="3.7" fill="#d5d5d5" stroke="#222" stroke-width="1.15"/>
<circle cx="1062.5" cy="202" r="3.7" fill="#d5d5d5" stroke="#222" stroke-width="1.15"/>
<circle cx="1074.1" cy="202" r="3.7" fill="#d5d5d5" stroke="#222" stroke-width="1.15"/>
<circle cx="1068.3" cy="230.4" r="3.7" fill="#d5d5d5" stroke="#222" stroke-width="1.15"/>
<circle cx="1086.2" cy="248.7" r="3.7" fill="#d5d5d5" stroke="#222" stroke-width="1.15"/>
<circle cx="1062.5" cy="253.6" r="3.7" fill="#d5d5d5" stroke="#222" stroke-width="1.15"/>
<circle cx="1074.1" cy="253.6" r="3.7" fill="#d5d5d5" stroke="#222" stroke-width="1.15"/>
<circle cx="1068.3" cy="262.8" r="3.7" fill="#d5d5d5" stroke="#222" stroke-width="1.15"/>
<circle cx="1074.1" cy="276.7" r="3.7" fill="#d5d5d5" stroke="#222" stroke-width="1.15"/>
<circle cx="1062.5" cy="281.1" r="3.7" fill="#d5d5d5" stroke="#222" stroke-width="1.15"/>
<circle cx="1068.3" cy="318.7" r="3.7" fill="#d5d5d5" stroke="#222" stroke-width="1.15"/>
<circle cx="1068.3" cy="332.3" r="3.7" fill="#d5d5d5" stroke="#222" stroke-width="1.15"/>
<circle cx="1050.9" cy="341.3" r="3.7" fill="#d5d5d5" stroke="#222" stroke-width="1.15"/>
<circle cx="1062.5" cy="346" r="3.7" fill="#d5d5d5" stroke="#222" stroke-width="1.15"/>
<circle cx="1074.1" cy="346" r="3.7" fill="#d5d5d5" stroke="#222" stroke-width="1.15"/>
<circle cx="1086.2" cy="346" r="3.7" fill="#d5d5d5" stroke="#222" stroke-width="1.15"/>
<circle cx="1068.3" cy="360.1" r="3.7" fill="#d5d5d5" stroke="#222" stroke-width="1.15"/>
<rect x="1112.95" y="244" width="41.5" height="171.5" fill="#9d9d9d" stroke="#000" stroke-width="1.8"/>
<line x1="1133.7" y1="197.1" x2="1133.7" y2="288.9" stroke-width="1.8" />
<line x1="1123.4" y1="197.1" x2="1144" y2="197.1" stroke-width="1.8" />
<line x1="1123.4" y1="288.9" x2="1144" y2="288.9" stroke-width="1.8" />
<circle cx="1133.1" cy="151.4" r="3.7" fill="#d5d5d5" stroke="#222" stroke-width="1.15"/>
<circle cx="1133.1" cy="202" r="3.7" fill="#d5d5d5" stroke="#222" stroke-width="1.15"/>
<circle cx="1133.1" cy="253.6" r="3.7" fill="#d5d5d5" stroke="#222" stroke-width="1.15"/>
<circle cx="1133.1" cy="364.5" r="3.7" fill="#d5d5d5" stroke="#222" stroke-width="1.15"/>
<text x="552.8" y="443.4" text-anchor="middle" font-size="23.5" >No</text>
<text x="613.4" y="443.4" text-anchor="middle" font-size="23.5" >Yes</text>
<line x1="533.3" y1="454.6" x2="640.7" y2="454.6" stroke-width="1.6" />
<text x="725" y="443.4" text-anchor="middle" font-size="23.5" >No</text>
<text x="787" y="443.4" text-anchor="middle" font-size="23.5" >Yes</text>
<line x1="706" y1="454.6" x2="813" y2="454.6" stroke-width="1.6" />
<text x="899.5" y="443.4" text-anchor="middle" font-size="23.5" >No</text>
<text x="960.8" y="443.4" text-anchor="middle" font-size="23.5" >Yes</text>
<line x1="880" y1="454.6" x2="987.3" y2="454.6" stroke-width="1.6" />
<text x="1073.3" y="443.4" text-anchor="middle" font-size="23.5" >No</text>
<text x="1134.2" y="443.4" text-anchor="middle" font-size="23.5" >Yes</text>
<line x1="1054" y1="454.6" x2="1161.7" y2="454.6" stroke-width="1.6" />
<text x="587" y="482.8" text-anchor="middle" font-size="23.5" >Second</text>
<text x="587" y="510.7" text-anchor="middle" font-size="23.5" >wind</text>
<text x="759.8" y="482.8" text-anchor="middle" font-size="23.5" >Chronic</text>
<text x="759.8" y="510.7" text-anchor="middle" font-size="23.5" >fatigue</text>
<text x="933.8" y="482.8" text-anchor="middle" font-size="23.5" >Myoglobinuria</text>
<text x="1107.5" y="482.8" text-anchor="middle" font-size="23.5" >Abnormal</text>
<text x="1108" y="510.7" text-anchor="middle" font-size="23.5" >physical</text>
<text x="533.25" y="21.4" font-size="23.5"><tspan font-style="italic" dx="1">p</tspan><tspan dx="-1"> = 0.467</tspan></text>
<text x="533.25" y="46.6" font-size="23.5"><tspan font-style="italic" dx="1">g</tspan><tspan dx="-1"> = 0.275</tspan></text>
<line x1="550" y1="60.2" x2="615" y2="60.2" stroke-width="1.8" />
<text x="707.5" y="21.4" font-size="23.5"><tspan font-style="italic" dx="1">p</tspan><tspan dx="-1"> = 0.5<tspan class="o">1</tspan>3</tspan></text>
<text x="707.5" y="46.6" font-size="23.5"><tspan font-style="italic" dx="1">g</tspan><tspan dx="-1"> = 0.063</tspan></text>
<line x1="725.4" y1="60.2" x2="790.2" y2="60.2" stroke-width="1.8" />
<text x="882" y="21.4" font-size="23.5"><tspan font-style="italic" dx="1">p</tspan><tspan dx="-1"> = 0.08<tspan class="o">1</tspan></tspan></text>
<text x="882" y="46.6" font-size="23.5"><tspan font-style="italic" dx="1">g</tspan><tspan dx="-1"> = 0.8<tspan class="o">1</tspan>5</tspan></text>
<line x1="899.2" y1="60.2" x2="963.8" y2="60.2" stroke-width="1.8" />
<text x="1056.5" y="21.4" font-size="23.5"><tspan font-style="italic" dx="1">p</tspan><tspan dx="-1"> = 0.906</tspan></text>
<text x="1056.5" y="46.6" font-size="23.5"><tspan font-style="italic" dx="1">g</tspan><tspan dx="-1"> = 0.063</tspan></text>
<line x1="1074.9" y1="60.2" x2="1139.3" y2="60.2" stroke-width="1.8" />
<text x="0" y="584" font-size="34" font-weight="bold" text-anchor="start">c</text>
<line x1="103" y1="606.25" x2="103" y2="986" stroke-width="2" />
<line x1="88" y1="985.75" x2="793.3" y2="985.75" stroke-width="2" />
<line x1="88" y1="985.75" x2="103" y2="985.75" stroke-width="2" />
<text x="78" y="994.15" text-anchor="end" font-size="23.5" >0</text>
<line x1="88" y1="899.5" x2="103" y2="899.5" stroke-width="2" />
<text x="78" y="907.9" text-anchor="end" font-size="23.5" >25</text>
<line x1="88" y1="813.25" x2="103" y2="813.25" stroke-width="2" />
<text x="78" y="821.65" text-anchor="end" font-size="23.5" >50</text>
<line x1="88" y1="727" x2="103" y2="727" stroke-width="2" />
<text x="78" y="735.4" text-anchor="end" font-size="23.5" >75</text>
<line x1="88" y1="640.75" x2="103" y2="640.75" stroke-width="2" />
<text x="78" y="649.15" text-anchor="end" font-size="23.5" ><tspan class="o">1</tspan>00</text>
<text transform="translate(21.2,795.5) rotate(-90)" text-anchor="middle" font-size="23.5">Percentage (%)</text>
<rect x="126.75" y="640.75" width="42.5" height="135.05" fill="#fff" stroke="#000" stroke-width="1.8"/>
<rect x="126.75" y="775.8" width="42.5" height="209.95" fill="#d3d3d3" stroke="#000" stroke-width="1.8"/>
<rect x="192.75" y="640.75" width="42.5" height="135.05" fill="#fff" stroke="#000" stroke-width="1.8"/>
<rect x="192.75" y="775.8" width="42.5" height="209.95" fill="#d3d3d3" stroke="#000" stroke-width="1.8"/>
<text x="147" y="720.4" text-anchor="middle" font-size="23.5" >5</text>
<text x="145" y="886.65" text-anchor="middle" font-size="23.5" >8</text>
<text x="215.5" y="720.4" text-anchor="middle" font-size="23.5" >5</text>
<text x="215" y="886.4" text-anchor="middle" font-size="23.5" >8</text>
<rect x="304.5" y="640.75" width="42.5" height="173.65" fill="#fff" stroke="#000" stroke-width="1.8"/>
<rect x="304.5" y="814.4" width="42.5" height="171.35" fill="#d3d3d3" stroke="#000" stroke-width="1.8"/>
<rect x="371.6" y="640.75" width="42.5" height="42.45" fill="#fff" stroke="#000" stroke-width="1.8"/>
<rect x="371.6" y="683.2" width="42.5" height="302.55" fill="#d3d3d3" stroke="#000" stroke-width="1.8"/>
<text x="326.2" y="739.1" text-anchor="middle" font-size="23.5" >9</text>
<text x="326.2" y="907.7" text-anchor="middle" font-size="23.5" >9</text>
<text x="392.5" y="670.9" text-anchor="middle" font-size="23.5" ><tspan class="o">1</tspan></text>
<text x="392.5" y="851.2" text-anchor="middle" font-size="23.5" >7</text>
<rect x="483.2" y="640.75" width="42.5" height="138.15" fill="#fff" stroke="#000" stroke-width="1.8"/>
<rect x="483.2" y="778.9" width="42.5" height="206.85" fill="#d3d3d3" stroke="#000" stroke-width="1.8"/>
<rect x="550.3" y="640.75" width="42.5" height="114.55" fill="#fff" stroke="#000" stroke-width="1.8"/>
<rect x="550.3" y="755.3" width="42.5" height="230.45" fill="#d3d3d3" stroke="#000" stroke-width="1.8"/>
<text x="503" y="720.2" text-anchor="middle" font-size="23.5" >8</text>
<text x="503.5" y="889.1" text-anchor="middle" font-size="23.5" ><tspan class="o">1</tspan>2</text>
<text x="571" y="705.2" text-anchor="middle" font-size="23.5" >2</text>
<text x="571" y="874.1" text-anchor="middle" font-size="23.5" >4</text>
<rect x="661.1" y="640.75" width="42.5" height="156.65" fill="#fff" stroke="#000" stroke-width="1.8"/>
<rect x="661.1" y="797.4" width="42.5" height="188.35" fill="#d3d3d3" stroke="#000" stroke-width="1.8"/>
<rect x="727.4" y="640.75" width="42.5" height="86.75" fill="#fff" stroke="#000" stroke-width="1.8"/>
<rect x="727.4" y="727.5" width="42.5" height="258.25" fill="#d3d3d3" stroke="#000" stroke-width="1.8"/>
<text x="682" y="722.1" text-anchor="middle" font-size="23.5" ><tspan class="o">1</tspan>0</text>
<text x="682" y="904.4" text-anchor="middle" font-size="23.5" ><tspan class="o">1</tspan>2</text>
<text x="749" y="692.5" text-anchor="middle" font-size="23.5" ><tspan class="o">1</tspan></text>
<text x="749" y="864.1" text-anchor="middle" font-size="23.5" >3</text>
<text x="130.75" y="576.4" font-size="23.5"><tspan font-style="italic">p</tspan> = <tspan class="o">1</tspan>.000</text>
<text x="130.75" y="603.2" font-size="23.5"><tspan font-style="italic">V</tspan><tspan dx="-1.8"> = 0.000</tspan></text>
<line x1="148.25" y1="621.5" x2="213.75" y2="621.5" stroke-width="1.8" />
<text x="311.1" y="576.4" font-size="23.5"><tspan font-style="italic">p</tspan> = 0.070</text>
<text x="311.1" y="603.2" font-size="23.5"><tspan font-style="italic">V</tspan><tspan dx="-1.8"> = 0.356</tspan></text>
<line x1="327.4" y1="621.5" x2="394.4" y2="621.5" stroke-width="1.8" />
<text x="488.7" y="576.4" font-size="23.5"><tspan font-style="italic">p</tspan> = 0.768</text>
<text x="488.7" y="603.2" font-size="23.5"><tspan font-style="italic">V</tspan><tspan dx="-1.8"> = 0.058</tspan></text>
<line x1="505.7" y1="621.5" x2="572" y2="621.5" stroke-width="1.8" />
<text x="668.5" y="576.4" font-size="23.5"><tspan font-style="italic">p</tspan> = 0.446</text>
<text x="668.5" y="603.2" font-size="23.5"><tspan font-style="italic">V</tspan><tspan dx="-1.8"> = 0.<tspan class="o">1</tspan>49</tspan></text>
<line x1="684.8" y1="621.5" x2="751.1" y2="621.5" stroke-width="1.8" />
<text x="147.5" y="1013.8" text-anchor="middle" font-size="23.5" >No</text>
<text x="215.3" y="1013.8" text-anchor="middle" font-size="23.5" >Yes</text>
<line x1="128" y1="1025" x2="238.25" y2="1025" stroke-width="1.6" />
<text x="325.25" y="1013.8" text-anchor="middle" font-size="23.5" >No</text>
<text x="394.15" y="1013.8" text-anchor="middle" font-size="23.5" >Yes</text>
<line x1="305.75" y1="1025" x2="417.1" y2="1025" stroke-width="1.6" />
<text x="503.95" y="1013.8" text-anchor="middle" font-size="23.5" >No</text>
<text x="572.85" y="1013.8" text-anchor="middle" font-size="23.5" >Yes</text>
<line x1="484.45" y1="1025" x2="595.8" y2="1025" stroke-width="1.6" />
<text x="681.85" y="1013.8" text-anchor="middle" font-size="23.5" >No</text>
<text x="749.95" y="1013.8" text-anchor="middle" font-size="23.5" >Yes</text>
<line x1="662.35" y1="1025" x2="772.9" y2="1025" stroke-width="1.6" />
<text x="183" y="1052.5" text-anchor="middle" font-size="23.5" >Second</text>
<text x="183" y="1080.5" text-anchor="middle" font-size="23.5" >wind</text>
<text x="361" y="1052.5" text-anchor="middle" font-size="23.5" >Chronic</text>
<text x="361" y="1080.5" text-anchor="middle" font-size="23.5" >fatigue</text>
<text x="539.5" y="1052.5" text-anchor="middle" font-size="23.5" >Myoglobinuria</text>
<text x="717.5" y="1052.5" text-anchor="middle" font-size="23.5" >Abnormal</text>
<text x="717.5" y="1080.5" text-anchor="middle" font-size="23.5" >physical</text>
<rect x="306.5" y="1115.8" width="39.6" height="12.4" fill="#d3d3d3" stroke="#000" stroke-width="1.6"/>
<text x="357" y="1129" text-anchor="start" font-size="23.5" >Very late diagnosis</text>
<text x="895" y="583.8" font-size="34" font-weight="bold" text-anchor="start">d</text>
<line x1="995.3" y1="636.7" x2="995.3" y2="1025.5" stroke-width="1.8" />
<line x1="980.8" y1="1025.1" x2="1200" y2="1025.1" stroke-width="1.7" />
<line x1="981" y1="637.5" x2="995.3" y2="637.5" stroke-width="1.7" />
<text x="961.2" y="645.2" text-anchor="end" font-size="23.5"><tspan class="o">1</tspan>0</text>
<text x="961.6" y="634.9" text-anchor="start" font-size="15.5">4</text>
<line x1="981" y1="831.3" x2="995.3" y2="831.3" stroke-width="1.7" />
<text x="961.2" y="839" text-anchor="end" font-size="23.5"><tspan class="o">1</tspan>0</text>
<text x="961.6" y="828.7" text-anchor="start" font-size="15.5">3</text>
<line x1="981" y1="1025.1" x2="995.3" y2="1025.1" stroke-width="1.7" />
<text x="961.2" y="1032.8" text-anchor="end" font-size="23.5"><tspan class="o">1</tspan>0</text>
<text x="961.6" y="1022.5" text-anchor="start" font-size="15.5">2</text>
<line x1="987" y1="966.76" x2="995.3" y2="966.76" stroke-width="1.6" />
<line x1="987" y1="932.63" x2="995.3" y2="932.63" stroke-width="1.6" />
<line x1="987" y1="908.42" x2="995.3" y2="908.42" stroke-width="1.6" />
<line x1="987" y1="889.64" x2="995.3" y2="889.64" stroke-width="1.6" />
<line x1="987" y1="874.29" x2="995.3" y2="874.29" stroke-width="1.6" />
<line x1="987" y1="861.32" x2="995.3" y2="861.32" stroke-width="1.6" />
<line x1="987" y1="850.08" x2="995.3" y2="850.08" stroke-width="1.6" />
<line x1="987" y1="840.17" x2="995.3" y2="840.17" stroke-width="1.6" />
<line x1="987" y1="772.96" x2="995.3" y2="772.96" stroke-width="1.6" />
<line x1="987" y1="738.83" x2="995.3" y2="738.83" stroke-width="1.6" />
<line x1="987" y1="714.62" x2="995.3" y2="714.62" stroke-width="1.6" />
<line x1="987" y1="695.84" x2="995.3" y2="695.84" stroke-width="1.6" />
<line x1="987" y1="680.49" x2="995.3" y2="680.49" stroke-width="1.6" />
<line x1="987" y1="667.52" x2="995.3" y2="667.52" stroke-width="1.6" />
<line x1="987" y1="656.28" x2="995.3" y2="656.28" stroke-width="1.6" />
<line x1="987" y1="646.37" x2="995.3" y2="646.37" stroke-width="1.6" />
<text transform="translate(915.5,828.8) rotate(-90)" text-anchor="middle" font-size="23.5">Baseline CK (Log U/L)</text>
<rect x="1025.3" y="739.9" width="56.6" height="285.2" fill="#fff" stroke="#000" stroke-width="1.8"/>
<rect x="1112.8" y="806.7" width="57.1" height="218.4" fill="#9d9d9d" stroke="#000" stroke-width="1.8"/>
<line x1="1053.7" y1="723.9" x2="1053.7" y2="758.5" stroke-width="1.9" />
<line x1="1039.5" y1="723.9" x2="1067.9" y2="723.9" stroke-width="1.9" />
<line x1="1039.5" y1="758.5" x2="1067.9" y2="758.5" stroke-width="1.9" />
<line x1="1141.3" y1="789.9" x2="1141.3" y2="825.9" stroke-width="1.9" />
<line x1="1127.1" y1="789.9" x2="1155.5" y2="789.9" stroke-width="1.9" />
<line x1="1127.1" y1="825.9" x2="1155.5" y2="825.9" stroke-width="1.9" />
<circle cx="1053.3" cy="667.3" r="3.7" fill="#d5d5d5" stroke="#222" stroke-width="1.15"/>
<circle cx="1045.3" cy="693.2" r="3.7" fill="#d5d5d5" stroke="#222" stroke-width="1.15"/>
<circle cx="1061.3" cy="691.9" r="3.7" fill="#d5d5d5" stroke="#222" stroke-width="1.15"/>
<circle cx="1053.3" cy="733.2" r="3.7" fill="#d5d5d5" stroke="#222" stroke-width="1.15"/>
<circle cx="1053.3" cy="750.5" r="3.7" fill="#d5d5d5" stroke="#222" stroke-width="1.15"/>
<circle cx="1037.9" cy="754.5" r="3.7" fill="#d5d5d5" stroke="#222" stroke-width="1.15"/>
<circle cx="1069.3" cy="754.5" r="3.7" fill="#d5d5d5" stroke="#222" stroke-width="1.15"/>
<circle cx="1053.3" cy="782.5" r="3.7" fill="#d5d5d5" stroke="#222" stroke-width="1.15"/>
<circle cx="1053.3" cy="804.5" r="3.7" fill="#d5d5d5" stroke="#222" stroke-width="1.15"/>
<circle cx="1053.3" cy="834.7" r="3.7" fill="#d5d5d5" stroke="#222" stroke-width="1.15"/>
<circle cx="1053.3" cy="889.9" r="3.7" fill="#d5d5d5" stroke="#222" stroke-width="1.15"/>
<circle cx="1140.8" cy="726" r="3.7" fill="#d5d5d5" stroke="#222" stroke-width="1.15"/>
<circle cx="1140.8" cy="739.3" r="3.7" fill="#d5d5d5" stroke="#222" stroke-width="1.15"/>
<circle cx="1140.8" cy="762.5" r="3.7" fill="#d5d5d5" stroke="#222" stroke-width="1.15"/>
<circle cx="1140.8" cy="782" r="3.7" fill="#d5d5d5" stroke="#222" stroke-width="1.15"/>
<circle cx="1140.8" cy="797.9" r="3.7" fill="#d5d5d5" stroke="#222" stroke-width="1.15"/>
<circle cx="1156.8" cy="828" r="3.7" fill="#d5d5d5" stroke="#222" stroke-width="1.15"/>
<circle cx="1140.8" cy="835.2" r="3.7" fill="#d5d5d5" stroke="#222" stroke-width="1.15"/>
<circle cx="1125.3" cy="840.8" r="3.7" fill="#d5d5d5" stroke="#222" stroke-width="1.15"/>
<circle cx="1156.8" cy="837.9" r="3.7" fill="#d5d5d5" stroke="#222" stroke-width="1.15"/>
<circle cx="1140.8" cy="872.8" r="3.7" fill="#d5d5d5" stroke="#222" stroke-width="1.15"/>
<circle cx="1140.8" cy="889.9" r="3.7" fill="#d5d5d5" stroke="#222" stroke-width="1.15"/>
<circle cx="1140.8" cy="928" r="3.7" fill="#d5d5d5" stroke="#222" stroke-width="1.15"/>
<circle cx="1140.8" cy="937.3" r="3.7" fill="#d5d5d5" stroke="#222" stroke-width="1.15"/>
<text x="1048" y="597.4" font-size="23.5"><tspan font-style="italic">p</tspan> = 0.0<tspan class="o">1</tspan>8</text>
<text x="1048" y="623.5" font-size="23.5"><tspan font-style="italic">g</tspan> = <tspan class="o">1</tspan>.022</text>
<line x1="1053.9" y1="642.5" x2="1144.8" y2="642.5" stroke-width="2" />
<text x="1054.4" y="1052.5" text-anchor="middle" font-size="23.5" >No</text>
<text x="1141.2" y="1052.5" text-anchor="middle" font-size="23.5" >Yes</text>
<line x1="1031.2" y1="1064.5" x2="1170.7" y2="1064.5" stroke-width="1.6" />
<text x="1101.2" y="1091.7" text-anchor="middle" font-size="23.5" >Very late</text>
<text x="1101" y="1120.2" text-anchor="middle" font-size="23.5" >diagnosis</text>
<path d="M358,0L269,0L269,502L100,502L100,560C200,565 262,600 280,709L358,709Z" transform="translate(58.34,370) scale(0.02350,-0.02350)" fill="#000"/>
<path d="M358,0L269,0L269,502L100,502L100,560C200,565 262,600 280,709L358,709Z" transform="translate(780.03,21) scale(0.02350,-0.02350)" fill="#000"/>
<path d="M358,0L269,0L269,502L100,502L100,560C200,565 262,600 280,709L358,709Z" transform="translate(967.61,21) scale(0.02350,-0.02350)" fill="#000"/>
<path d="M358,0L269,0L269,502L100,502L100,560C200,565 262,600 280,709L358,709Z" transform="translate(954.53,47) scale(0.02350,-0.02350)" fill="#000"/>
<path d="M358,0L269,0L269,502L100,502L100,560C200,565 262,600 280,709L358,709Z" transform="translate(38.78,649) scale(0.02350,-0.02350)" fill="#000"/>
<path d="M358,0L269,0L269,502L100,502L100,560C200,565 262,600 280,709L358,709Z" transform="translate(385.96,671) scale(0.02350,-0.02350)" fill="#000"/>
<path d="M358,0L269,0L269,502L100,502L100,560C200,565 262,600 280,709L358,709Z" transform="translate(490.42,889) scale(0.02350,-0.02350)" fill="#000"/>
<path d="M358,0L269,0L269,502L100,502L100,560C200,565 262,600 280,709L358,709Z" transform="translate(668.92,722) scale(0.02350,-0.02350)" fill="#000"/>
<path d="M358,0L269,0L269,502L100,502L100,560C200,565 262,600 280,709L358,709Z" transform="translate(668.92,904) scale(0.02350,-0.02350)" fill="#000"/>
<path d="M358,0L269,0L269,502L100,502L100,560C200,565 262,600 280,709L358,709Z" transform="translate(742.46,692) scale(0.02350,-0.02350)" fill="#000"/>
<path d="M358,0L269,0L269,502L100,502L100,560C200,565 262,600 280,709L358,709Z" transform="translate(170.62,576) scale(0.02350,-0.02350)" fill="#000"/>
<path d="M358,0L269,0L269,502L100,502L100,560C200,565 262,600 280,709L358,709Z" transform="translate(728.78,603) scale(0.02350,-0.02350)" fill="#000"/>
<path d="M358,0L269,0L269,502L100,502L100,560C200,565 262,600 280,709L358,709Z" transform="translate(935.04,645) scale(0.02350,-0.02350)" fill="#000"/>
<path d="M358,0L269,0L269,502L100,502L100,560C200,565 262,600 280,709L358,709Z" transform="translate(935.04,839) scale(0.02350,-0.02350)" fill="#000"/>
<path d="M358,0L269,0L269,502L100,502L100,560C200,565 262,600 280,709L358,709Z" transform="translate(935.04,1033) scale(0.02350,-0.02350)" fill="#000"/>
<path d="M358,0L269,0L269,502L100,502L100,560C200,565 262,600 280,709L358,709Z" transform="translate(1120.53,597) scale(0.02350,-0.02350)" fill="#000"/>
<path d="M358,0L269,0L269,502L100,502L100,560C200,565 262,600 280,709L358,709Z" transform="translate(1087.88,624) scale(0.02350,-0.02350)" fill="#000"/>
</svg></body></html>
